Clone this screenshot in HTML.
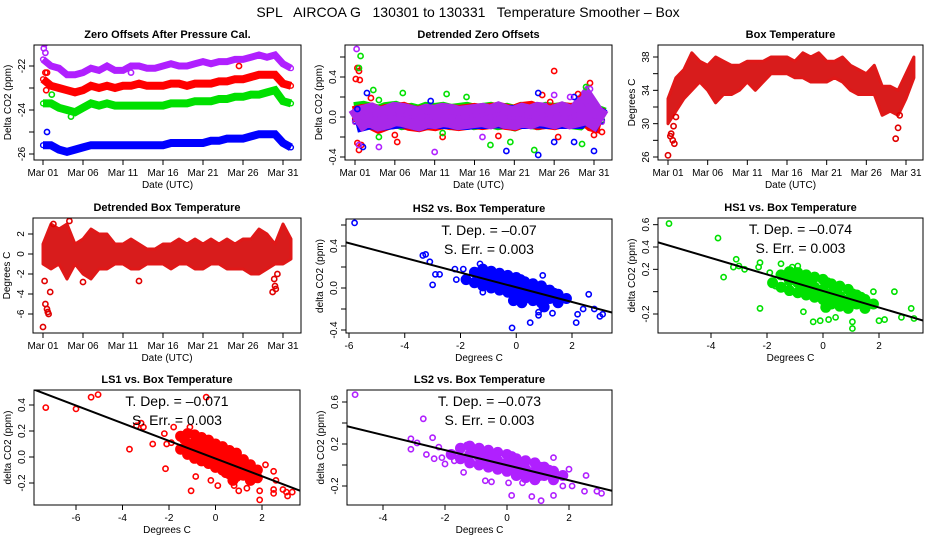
<!DOCTYPE html>
<html><head><meta charset="utf-8">
<style>
html,body{margin:0;padding:0;background:#fff;}
svg{display:block;font-family:"Liberation Sans",Arial,sans-serif;}
</style></head>
<body>
<svg id="fig" width="936" height="540" viewBox="0 0 936 540">
<rect x="0" y="0" width="936" height="540" fill="#fff"/>
<text x="468" y="17" font-size="14" text-anchor="middle" xml:space="preserve">SPL   AIRCOA G   130301 to 130331   Temperature Smoother – Box</text>
</svg>
<script>
// ===== DATA =====
const dayTickValues = [0,5,10,15,20,25,30];
const dayTickLabels = ["Mar 01","Mar 06","Mar 11","Mar 16","Mar 21","Mar 26","Mar 31"];
const days = [0,1,2,3,4,5,6,7,8,9,10,11,12,13,14,15,16,17,18,19,20,21,22,23,24,25,26,27,28,29,30,31];

const zoPurple = [-21.7,-22.0,-22.1,-22.4,-22.4,-22.3,-22.1,-22.2,-22.0,-22.2,-22.2,-22.0,-22.0,-22.1,-22.1,-22.0,-21.9,-22.0,-22.0,-21.9,-21.8,-21.9,-21.8,-21.8,-21.7,-21.7,-21.6,-21.5,-21.6,-21.5,-21.9,-22.1];
const zoRed    = [-22.6,-22.9,-23.0,-23.1,-23.2,-23.1,-22.9,-23.0,-22.9,-23.0,-22.9,-22.9,-22.8,-22.9,-22.9,-22.9,-22.8,-22.8,-22.9,-22.8,-22.8,-22.8,-22.7,-22.7,-22.6,-22.6,-22.5,-22.4,-22.4,-22.4,-22.8,-22.9];
const zoGreen  = [-23.7,-23.7,-23.9,-24.0,-24.1,-23.9,-23.7,-23.8,-23.7,-23.8,-23.8,-23.8,-23.8,-23.8,-23.8,-23.8,-23.7,-23.7,-23.7,-23.6,-23.6,-23.6,-23.5,-23.5,-23.4,-23.4,-23.3,-23.3,-23.2,-23.1,-23.6,-23.7];
const zoBlue   = [-25.6,-25.6,-25.8,-25.9,-25.8,-25.7,-25.6,-25.6,-25.6,-25.6,-25.6,-25.6,-25.6,-25.6,-25.6,-25.6,-25.5,-25.5,-25.5,-25.5,-25.5,-25.4,-25.4,-25.3,-25.3,-25.3,-25.2,-25.1,-25.1,-25.1,-25.5,-25.7];
const zoOutDays = [0.1,0.2,0.3,0.5,0.5,1.1,3.5,11,24.5,0.3,0.4];
const zoOutVals = [-21.2,-21.0,-21.4,-25.0,-22.3,-23.3,-24.3,-22.3,-22.0,-22.3,-23.1];
const zoOutCols = ["#b020ff","#b020ff","#b020ff","#0000ff","#ff0000","#00e000","#00e000","#b020ff","#ff0000","#ff0000","#ff0000"];

const dzGreen  = [0.02,0.03,0.01,-0.01,0.02,0.03,0.0,0.01,-0.01,0.02,0.01,0.02,0.0,0.01,0.02,0.0,0.01,0.02,0.0,0.01,-0.01,0.02,0.01,0.0,0.02,0.01,0.02,0.01,0.0,0.06,0.0,-0.03];
const dzRed    = [-0.02,0.0,0.01,-0.03,0.0,0.01,0.02,-0.01,-0.02,0.0,-0.01,0.01,0.0,-0.01,0.0,0.01,0.0,0.01,0.02,0.0,-0.01,0.02,0.03,0.0,0.01,0.0,0.02,0.01,0.02,0.05,-0.02,-0.04];
const dzBlue   = [-0.04,-0.02,0.0,-0.02,-0.01,0.0,0.01,0.0,-0.02,0.0,0.0,0.0,0.0,-0.01,-0.01,0.0,0.0,0.0,0.01,0.0,0.0,0.0,0.0,0.01,0.0,0.0,0.0,0.0,0.0,0.08,0.0,-0.04];
const dzPurple = [-0.05,0.0,0.02,-0.02,0.0,0.03,0.02,0.0,-0.02,0.01,0.0,0.02,0.01,-0.01,0.0,0.01,0.02,0.0,0.03,0.0,-0.01,0.02,0.0,0.03,0.02,0.0,0.03,0.0,0.02,0.12,0.0,-0.05];
const dzOutDays = [0.1,0.3,0.5,0.6,0.3,0.5,0.8,2,5,5.3,11,18,25,24.5,29.5,30,31,28,23.5,25.5, 0.7,0.5,2.3,3,6,11.5,14,17,19.5,22.5,28.5,29,3,11, 0.3,1.5,19,23,23,25,27.5,27.5,30,9.5,1, 0.2,0.5,10,3,25,27,29.5,16];
const dzOutVals = [0.38,0.49,0.46,0.37,-0.26,-0.33,-0.28,0.19,-0.18,-0.25,-0.2,-0.19,0.46,0.15,0.34,-0.18,-0.15,0.23,0.22,-0.2, 0.61,0.49,0.27,0.17,0.24,0.23,0.2,-0.28,-0.25,-0.33,-0.27,0.3,-0.2,-0.16, 0.08,0.24,-0.34,-0.38,0.24,-0.25,0.2,-0.25,-0.34,0.16,-0.3, 0.68,-0.28,-0.35,-0.3,0.22,0.2,0.28,-0.2];
const dzOutCols = ["r","r","r","r","r","r","r","r","r","r","r","r","r","r","r","r","r","r","r","r", "g","g","g","g","g","g","g","g","g","g","g","g","g","g", "b","b","b","b","b","b","b","b","b","b","b", "p","p","p","p","p","p","p","p"];

const btLow  = [30.0,31.5,33.0,34.0,35.0,34.0,32.5,33.5,33.5,34.0,35.0,34.0,35.0,36.0,36.0,36.0,35.5,35.5,35.0,35.0,35.0,35.5,35.0,34.0,33.5,33.5,33.5,31.0,31.5,31.0,33.0,35.5];
const btHigh = [33.0,35.5,36.5,38.5,37.5,37.0,38.0,37.5,37.0,37.0,37.5,37.5,37.5,38.0,38.0,38.0,37.5,38.5,38.0,38.5,37.5,37.5,38.0,37.0,36.5,36.0,37.0,34.5,34.5,34.0,36.0,38.0];
const btOutDays = [0.0,0.3,0.4,0.6,0.8,0.7,1.0,28.7,29.0,29.2];
const btOutVals = [26.2,28.5,28.8,28.0,27.6,29.7,30.8,28.2,29.5,31.0];

const dbLow  = [-1.0,-1.5,-1.0,-2.5,-1.0,-2.0,-2.5,-1.5,-1.5,-1.0,-1.0,-1.5,-1.5,-1.0,-1.0,-1.0,-1.5,-1.0,-1.0,-1.5,-1.5,-1.0,-1.0,-1.5,-1.5,-1.5,-2.0,-2.0,-1.5,-1.0,-1.0,-0.5];
const dbHigh = [ 1.0, 3.0, 2.5, 3.0, 1.0, 1.5, 2.5, 2.0, 2.0, 1.0, 1.0, 1.5, 1.0, 0.5, 0.5, 1.0, 1.0, 1.5, 1.0, 1.5, 1.0, 1.5, 1.0, 1.5, 1.0, 1.5, 1.5, 2.5, 2.0, 1.0, 3.0, 1.5];
const dbOutDays = [0.0,0.3,0.5,0.6,0.7,0.9,0.2,1.3,3.3,5.0,12.0,28.7,29.0,29.3,28.9,29.1];
const dbOutVals = [-7.3,-5.0,-5.5,-5.8,-6.0,-3.8,-2.7,3.0,3.3,-2.8,-2.7,-3.8,-3.2,-2.0,-2.5,-3.5];

const hs2X = [-5.8,-3.35,-3.25,-3.1,-3,-2.9,-2.75,-2.2,-2.15,-1.9,-1.2,-0.15,0.5,0.8,0.8,1.3,2.15,2.2,2.6,3,3.1,0.95,-1.3,2.4,2.8, -1.5,-1.5,-1.2,-1.2,-1.2,-0.9,-0.9,-0.9,-0.6,-0.6,-0.6,-0.3,-0.3,-0.3,0,0,0,0.3,0.3,0.3,0.6,0.6,0.6,0.9,0.9,0.9,1.2,1.2,1.5,1.5,1.8,-0.45,0.15,0.45,-0.75,1.05,-1.8,-0.1,0.2,1.0,-1.05,-0.75,-0.45,-0.15,0.15,0.45,0.75,1.05,1.35];
const hs2Y = [0.62,0.31,0.32,0.25,0.03,0.13,0.13,0.18,0.08,0.18,-0.04,-0.38,-0.33,-0.23,-0.26,-0.24,-0.33,-0.25,-0.06,-0.27,-0.25,0.12,0.23,-0.2,-0.2, 0.15,0.05,0.18,0.10,0.02,0.16,0.08,0.0,0.14,0.06,-0.02,0.12,0.04,-0.04,0.10,0.02,-0.06,0.06,-0.02,-0.10,0.04,-0.04,-0.12,0.02,-0.06,-0.14,-0.02,-0.10,-0.06,-0.14,-0.10,0.0,0.08,-0.08,0.10,-0.02,0.08,-0.12,-0.14,-0.18,0.13,0.05,0.09,0.0,-0.03,0.02,-0.08,-0.10,-0.05];
const hs2Fit = [0.007,-0.070];

const hs1X = [-5.5,-3.75,-3.55,-3.1,-3.0,-3.2,-2.8,-2.25,-2.25,-2.3,-1.9,-1.7,-1.5,-0.7,-0.35,-0.1,0.2,0.45,1.05,1.05,2.0,2.2,2.55,3.15,3.25,2.8,1.8,-1.1,-0.9, -1.5,-1.5,-1.2,-1.2,-1.2,-0.9,-0.9,-0.9,-0.6,-0.6,-0.6,-0.3,-0.3,-0.3,0,0,0,0.3,0.3,0.3,0.6,0.6,0.6,0.9,0.9,0.9,1.2,1.2,1.5,1.5,1.8,-0.45,0.15,0.45,-0.75,1.05,-1.8,0.1,-1.05,-0.75,-0.45,-0.15,0.15,0.45,0.75,1.05,1.35];
const hs1Y = [0.61,0.48,0.13,0.29,0.23,0.22,0.2,-0.15,0.26,0.22,0.17,0.05,0.25,-0.18,-0.27,-0.26,-0.25,-0.23,-0.27,-0.33,-0.26,-0.25,0.0,-0.15,-0.24,-0.23,0.0,0.22,0.23, 0.15,0.04,0.18,0.10,0.01,0.17,0.08,-0.01,0.15,0.06,-0.03,0.13,0.04,-0.05,0.11,0.02,-0.07,0.07,-0.02,-0.11,0.05,-0.04,-0.13,0.02,-0.07,-0.15,-0.03,-0.11,-0.07,-0.15,-0.11,0.0,0.08,-0.08,0.10,-0.02,0.08,-0.14,0.14,0.05,0.09,0.0,-0.03,0.02,-0.09,-0.10,-0.05];
const hs1Fit = [0.006,-0.074];

const ls1X = [-7.3,-6.0,-5.35,-5.05,-3.7,-3.4,-3.2,-3.1,-2.7,-2.2,-2.15,-2.1,-1.9,-1.8,-1.1,-1.05,-0.85,-0.4,0.8,1.0,1.35,1.9,1.9,2.15,2.5,2.5,2.5,2.9,3.05,3.1,3.3,2.6,0.1,-0.2, -1.5,-1.5,-1.2,-1.2,-1.2,-0.9,-0.9,-0.9,-0.9,-0.6,-0.6,-0.6,-0.6,-0.3,-0.3,-0.3,-0.3,0,0,0,0,0.3,0.3,0.3,0.3,0.6,0.6,0.6,0.6,0.9,0.9,0.9,0.9,1.2,1.2,1.2,1.5,1.5,1.5,1.8,1.8,-0.45,0.15,0.45,-0.75,1.05,-1.35,0.75,-1.05,-0.45,0.15,0.75,1.35,-0.15,0.45,1.05];
const ls1Y = [0.38,0.37,0.46,0.48,0.06,0.24,0.26,0.23,0.1,0.18,-0.09,0.1,0.11,0.23,0.23,-0.26,-0.15,0.46,-0.22,-0.26,-0.24,-0.33,-0.26,-0.06,-0.11,-0.25,-0.28,-0.25,-0.27,-0.3,-0.27,-0.18,-0.22,-0.18, 0.16,0.06,0.18,0.10,0.02,0.17,0.11,0.05,-0.01,0.15,0.09,0.03,-0.03,0.13,0.07,0.01,-0.05,0.10,0.04,-0.02,-0.08,0.08,0.02,-0.04,-0.10,0.05,-0.01,-0.07,-0.13,0.03,-0.03,-0.09,-0.15,-0.02,-0.08,-0.14,-0.06,-0.12,-0.18,-0.10,-0.16,-0.02,0.06,-0.12,0.12,-0.05,0.14,-0.18,0.08,0.10,-0.06,0.0,-0.10,0.04,-0.01,-0.11];
const ls1Fit = [-0.012,-0.068];

const ls2X = [-4.9,-2.7,-3.1,-3.1,-2.9,-2.6,-2.4,-2.35,-2.2,-2.1,-2.0,-1.75,-1.7,-1.4,-0.7,-0.5,0.15,0.05,0.5,0.8,1.1,1.5,1.8,2.0,2.1,2.55,2.5,2.9,3.05,1.5,-1.3, -1.5,-1.5,-1.2,-1.2,-1.2,-0.9,-0.9,-0.9,-0.6,-0.6,-0.6,-0.3,-0.3,-0.3,0,0,0,0.3,0.3,0.3,0.6,0.6,0.6,0.9,0.9,0.9,1.2,1.2,1.5,1.5,1.8,-0.45,0.15,0.45,-0.75,1.05,-1.8,-1.05,-0.75,-0.45,-0.15,0.15,0.45,0.75,1.05,1.35];
const ls2Y = [0.67,0.44,0.25,0.15,0.21,0.1,0.26,0.06,0.17,0.07,0.01,0.1,0.04,-0.07,-0.15,-0.16,-0.29,-0.17,-0.17,-0.3,-0.34,-0.29,-0.2,-0.04,-0.2,-0.1,-0.25,-0.25,-0.27,0.07,0.19, 0.16,0.06,0.18,0.10,0.02,0.16,0.08,0.0,0.14,0.06,-0.02,0.12,0.04,-0.04,0.10,0.02,-0.06,0.06,-0.02,-0.10,0.04,-0.04,-0.12,0.02,-0.06,-0.14,-0.02,-0.10,-0.06,-0.14,-0.10,0.0,0.08,-0.08,0.10,-0.02,0.10,0.13,0.05,0.09,0.0,-0.03,0.02,-0.08,-0.10,-0.05];
const ls2Fit = [-0.002,-0.072];

// ===== DRAWING =====
const NS = "http://www.w3.org/2000/svg";
const svg = document.getElementById('fig');
const COL = {r:"#ff0000",g:"#00e000",b:"#0000ff",p:"#b020ff"};
function mk(tag, attrs, parent){
  const e = document.createElementNS(NS, tag);
  for (const k in attrs) e.setAttribute(k, attrs[k]);
  (parent||svg).appendChild(e);
  return e;
}
function linScale(v0,p0,v1,p1){ return v => p0 + (v - v0) * (p1 - p0) / (v1 - v0); }

function makePanel(name, box, xs, ys, title, xlab, ylab, xticks, xlabels, yticks, ylabels){
  const g = mk('g', {});
  
  
  const clipId = 'clip-' + name;
  const cp = mk('clipPath', {id: clipId}, g);
  mk('rect', {x: box.x, y: box.y, width: box.w, height: box.h}, cp);
  const plot = mk('g', {'clip-path': 'url(#' + clipId + ')'}, g);
  
  
  const frame = mk('rect', {x: box.x, y: box.y, width: box.w, height: box.h, fill: 'none', stroke: '#000', 'stroke-width': 1}, g);
  
  
  const t = mk('text', {x: box.x + box.w / 2, y: box.y - 7, 'font-size': 11, 'font-weight': 'bold', 'text-anchor': 'middle'}, g);
  t.textContent = title;
  
  
  const xa = mk('g', {}, g);
  
  
  const xb = box.y + box.h;
  mk('line', {x1: xs(xticks[0]), x2: xs(xticks[xticks.length - 1]), y1: xb, y2: xb, stroke: '#000'}, xa);
  xticks.forEach((v, i) => {
    const px = xs(v);
    mk('line', {x1: px, x2: px, y1: xb, y2: xb + 5, stroke: '#000'}, xa);
    if (xlabels[i] !== '') {
      const tx = mk('text', {x: px, y: xb + 16, 'font-size': 10, 'text-anchor': 'middle'}, xa);
      tx.textContent = xlabels[i];
      
      
    }
  });
  const xl = mk('text', {x: box.x + box.w / 2, y: xb + 28, 'font-size': 10, 'text-anchor': 'middle'}, g);
  xl.textContent = xlab;
  
  
  const ya = mk('g', {}, g);
  
  
  const xL = box.x;
  mk('line', {x1: xL, x2: xL, y1: ys(yticks[0]), y2: ys(yticks[yticks.length - 1]), stroke: '#000'}, ya);
  yticks.forEach((v, i) => {
    const py = ys(v);
    mk('line', {x1: xL - 5, x2: xL, y1: py, y2: py, stroke: '#000'}, ya);
    if (ylabels[i] !== '') {
      const ty = mk('text', {x: xL - 9, y: py, 'font-size': 10, 'text-anchor': 'middle', transform: 'rotate(-90 ' + (xL - 9) + ' ' + py + ')'}, ya);
      ty.textContent = ylabels[i];
      
      
    }
  });
  const yx = xL - 23, yy = box.y + box.h / 2;
  const yl = mk('text', {x: yx, y: yy, 'font-size': 10, 'text-anchor': 'middle', transform: 'rotate(-90 ' + yx + ' ' + yy + ')'}, g);
  yl.textContent = ylab;
  
  
  return plot;
}

function band(parent, xs, ys, xv, yv, color, width, name){
  const d = xv.map((x, i) => (i ? 'L' : 'M') + xs(x).toFixed(1) + ' ' + ys(yv[i]).toFixed(1)).join(' ');
  const p = mk('path', {d: d, fill: 'none', stroke: color, 'stroke-width': width, 'stroke-linejoin': 'miter', 'stroke-linecap': 'butt'}, parent);
  
  
  xv.forEach((x, i) => {
    const c = mk('circle', {cx: xs(x), cy: ys(yv[i]), r: 2.4, fill: 'none', stroke: color, 'stroke-width': 1.4}, parent);
    
    
  });
}
function envelope(parent, xs, ys, xv, lo, hi, fill, name){
  const top = xv.map((x, i) => xs(x).toFixed(1) + ',' + ys(hi[i]).toFixed(1));
  const bot = xv.slice().reverse().map((x, j) => { const i = xv.length - 1 - j; return xs(x).toFixed(1) + ',' + ys(lo[i]).toFixed(1); });
  const p = mk('polygon', {points: top.concat(bot).join(' '), fill: fill, stroke: '#e01818', 'stroke-width': 3, 'stroke-linejoin': 'round'}, parent);
  
  
}
function points(parent, xs, ys, xv, yv, colors, name, clusterStart){
  xv.forEach((x, i) => {
    const col = Array.isArray(colors) ? (COL[colors[i]] || colors[i]) : colors;
    const big = clusterStart !== undefined && i >= clusterStart;
    const c = mk('circle', {cx: xs(x), cy: ys(yv[i]), r: big ? 4 : 2.6, fill: big ? col : 'none', stroke: col, 'stroke-width': big ? 3 : 1.6}, parent);
    
    
  });
}
function fitLine(parent, xs, ys, box, fit, name){
  const inv = linScale(xs(0), 0, xs(1), 1);
  const x0 = inv(box.x), x1 = inv(box.x + box.w);
  const l = mk('line', {x1: xs(x0), y1: ys(fit[0] + fit[1] * x0), x2: xs(x1), y2: ys(fit[0] + fit[1] * x1), stroke: '#000', 'stroke-width': 2}, parent);
  
  
}
function annot(box, dep, name){
  const cx = box.x + box.w / 2 + 10;
  const a = mk('text', {x: cx, y: box.y + 16, 'font-size': 14, 'text-anchor': 'middle', 'xml:space': 'preserve'});
  a.textContent = 'T. Dep. =  ' + dep;
  
  
  const b = mk('text', {x: cx, y: box.y + 35, 'font-size': 14, 'text-anchor': 'middle', 'xml:space': 'preserve'});
  b.textContent = 'S. Err. =  0.003';
  
  
}

{
  const box = {x: 34, y: 45, w: 267, h: 115};
  const xs = linScale(0, 43, 30, 283), ys = linScale(-22, 66, -26, 154);
  const p = makePanel('zero-offsets-panel', box, xs, ys, 'Zero Offsets After Pressure Cal.', 'Date (UTC)', 'Delta CO2  (ppm)',
    dayTickValues, dayTickLabels, [-26,-25,-24,-23,-22], ['-26','','-24','','-22']);
  band(p, xs, ys, days, zoBlue, COL.b, 8, 'series-blue');
  band(p, xs, ys, days, zoGreen, COL.g, 8, 'series-green');
  band(p, xs, ys, days, zoRed, COL.r, 8, 'series-red');
  band(p, xs, ys, days, zoPurple, COL.p, 7, 'series-purple');
  points(p, xs, ys, zoOutDays, zoOutVals, zoOutCols, 'outlier-point');
}
{
  const box = {x: 345, y: 45, w: 267, h: 115};
  const xs = linScale(0, 355, 30, 594), ys = linScale(0, 117, 0.4, 77);
  const p = makePanel('detrended-zero-offsets-panel', box, xs, ys, 'Detrended Zero Offsets', 'Date (UTC)', 'Delta CO2  (ppm)',
    dayTickValues, dayTickLabels, [-0.4,-0.2,0,0.2,0.4,0.6], ['-0.4','','0.0','','0.4','']);
  band(p, xs, ys, days, dzGreen, COL.g, 26, 'series-green');
  band(p, xs, ys, days, dzRed, COL.r, 26, 'series-red');
  band(p, xs, ys, days, dzBlue, COL.b, 24, 'series-blue');
  band(p, xs, ys, days, dzPurple, '#a828e8', 24, 'series-purple');
  points(p, xs, ys, dzOutDays, dzOutVals, dzOutCols, 'outlier-point');
}
{
  const box = {x: 658, y: 45, w: 265, h: 115};
  const xs = linScale(0, 668, 30, 906), ys = linScale(38, 57, 26, 157);
  const p = makePanel('box-temperature-panel', box, xs, ys, 'Box Temperature', 'Date (UTC)', 'Degrees C',
    dayTickValues, dayTickLabels, [26,28,30,32,34,36,38], ['26','','30','','34','','38']);
  envelope(p, xs, ys, days, btLow, btHigh, '#d81c1c', 'series-box-temp');
  points(p, xs, ys, btOutDays, btOutVals, '#e00000', 'outlier-point');
}
{
  const box = {x: 33, y: 218, w: 268, h: 115};
  const xs = linScale(0, 43, 30, 283), ys = linScale(0, 254, 2, 234);
  const p = makePanel('detrended-box-temperature-panel', box, xs, ys, 'Detrended Box Temperature', 'Date (UTC)', 'Degrees C',
    dayTickValues, dayTickLabels, [-6,-4,-2,0,2], ['-6','-4','-2','0','2']);
  envelope(p, xs, ys, days, dbLow, dbHigh, '#d81c1c', 'series-detrended-temp');
  points(p, xs, ys, dbOutDays, dbOutVals, '#e00000', 'outlier-point');
}
{
  const box = {x: 346, y: 219, w: 266, h: 114};
  const xs = linScale(-6, 349, 2, 572), ys = linScale(0, 288, 0.4, 246);
  const p = makePanel('hs2-scatter-panel', box, xs, ys, 'HS2 vs. Box Temperature', 'Degrees C', 'delta CO2 (ppm)',
    [-6,-4,-2,0,2], ['-6','-4','-2','0','2'], [-0.4,-0.2,0,0.2,0.4,0.6], ['-0.4','','0.0','','0.4','']);
  points(p, xs, ys, hs2X, hs2Y, COL.b, 'hs2-point', 25);
  fitLine(p, xs, ys, box, hs2Fit, 'hs2-fit-line');
  annot(box, '–0.07', 'hs2');
}
{
  const box = {x: 658, y: 218, w: 265, h: 115};
  const xs = linScale(-4, 711, 2, 879), ys = linScale(0.4, 247, -0.2, 314);
  const p = makePanel('hs1-scatter-panel', box, xs, ys, 'HS1 vs. Box Temperature', 'Degrees C', 'delta CO2 (ppm)',
    [-4,-2,0,2], ['-4','-2','0','2'], [-0.2,0,0.2,0.4,0.6], ['-0.2','','0.2','0.4','0.6']);
  points(p, xs, ys, hs1X, hs1Y, COL.g, 'hs1-point', 29);
  fitLine(p, xs, ys, box, hs1Fit, 'hs1-fit-line');
  annot(box, '–0.074', 'hs1');
}
{
  const box = {x: 34, y: 390, w: 266, h: 115};
  const xs = linScale(-6, 76, 2, 262), ys = linScale(0.4, 405, -0.2, 483);
  const p = makePanel('ls1-scatter-panel', box, xs, ys, 'LS1 vs. Box Temperature', 'Degrees C', 'delta CO2 (ppm)',
    [-6,-4,-2,0,2], ['-6','-4','-2','0','2'], [-0.2,0,0.2,0.4], ['-0.2','0.0','0.2','0.4']);
  points(p, xs, ys, ls1X, ls1Y, COL.r, 'ls1-point', 34);
  fitLine(p, xs, ys, box, ls1Fit, 'ls1-fit-line');
  annot(box, '–0.071', 'ls1');
}
{
  const box = {x: 347, y: 390, w: 265, h: 115};
  const xs = linScale(-4, 383, 2, 569), ys = linScale(0.2, 444, -0.2, 486);
  const p = makePanel('ls2-scatter-panel', box, xs, ys, 'LS2 vs. Box Temperature', 'Degrees C', 'delta CO2 (ppm)',
    [-4,-2,0,2], ['-4','-2','0','2'], [-0.2,0,0.2,0.4,0.6], ['-0.2','','0.2','','0.6']);
  points(p, xs, ys, ls2X, ls2Y, COL.p, 'ls2-point', 31);
  fitLine(p, xs, ys, box, ls2Fit, 'ls2-fit-line');
  annot(box, '–0.073', 'ls2');
}
</script>
</body></html>
